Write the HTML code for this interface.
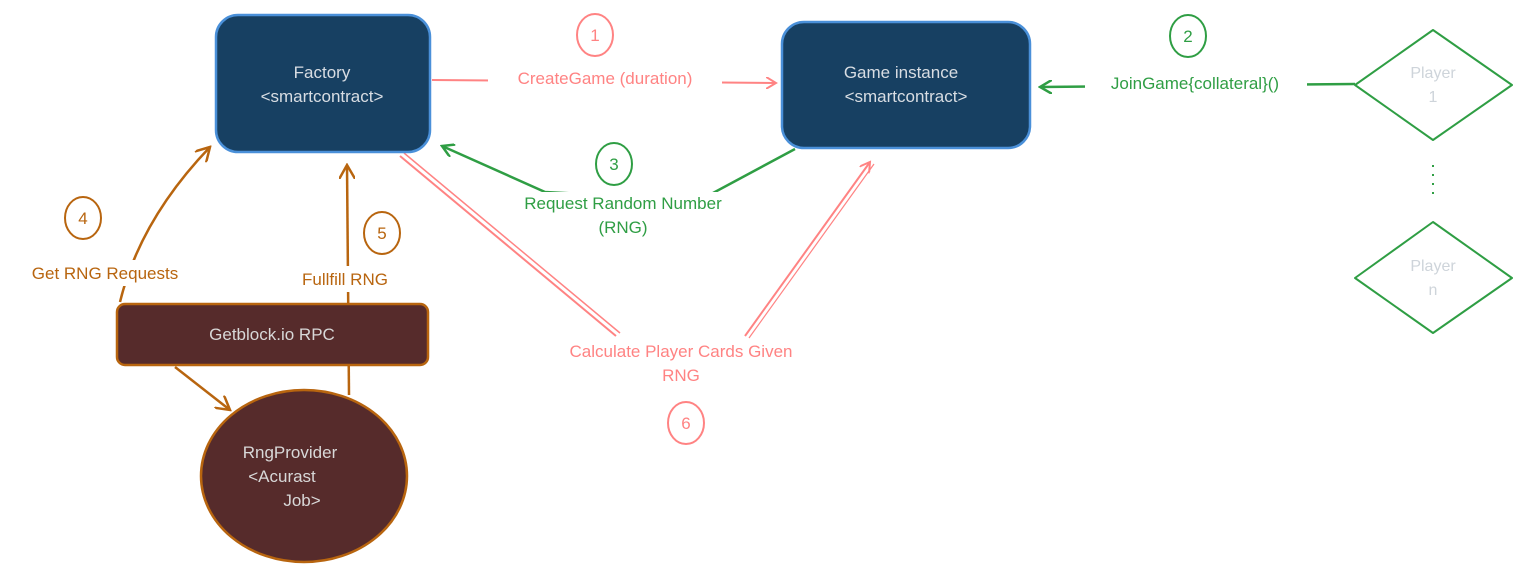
<!DOCTYPE html>
<html><head><meta charset="utf-8"><style>
html,body{margin:0;padding:0;background:#fff;width:1529px;height:571px;overflow:hidden}
text{font-family:"Liberation Sans",sans-serif}
</style></head><body>
<svg width="1529" height="571" viewBox="0 0 1529 571" xmlns="http://www.w3.org/2000/svg">
<defs>
<marker id="ap" markerWidth="12" markerHeight="12" refX="10" refY="6" orient="auto" markerUnits="userSpaceOnUse"><path d="M0,0 L10,6 L0,12" fill="none" stroke="#ff8383" stroke-width="2"/></marker>
<marker id="ag" markerWidth="14" markerHeight="14" refX="12" refY="7" orient="auto" markerUnits="userSpaceOnUse"><path d="M0,0 L12,7 L0,14" fill="none" stroke="#2f9e44" stroke-width="2.5"/></marker>
<marker id="ab" markerWidth="16" markerHeight="16" refX="14" refY="8" orient="auto" markerUnits="userSpaceOnUse"><path d="M0,0 L14,8 L0,16" fill="none" stroke="#b8650f" stroke-width="2.5"/></marker>
</defs>
<!-- connectors -->
<line x1="432" y1="80" x2="776" y2="83" stroke="#ff8383" stroke-width="2" marker-end="url(#ap)"/>
<line x1="1355" y1="84" x2="1040" y2="87" stroke="#2f9e44" stroke-width="2.5" marker-end="url(#ag)"/>
<path d="M795 149 L700 200 L545 192 L442 146" fill="none" stroke="#2f9e44" stroke-width="2.5" marker-end="url(#ag)"/>
<line x1="400" y1="156" x2="616" y2="336" stroke="#ff8383" stroke-width="2"/>
<line x1="404" y1="153" x2="620" y2="333" stroke="#ff8383" stroke-width="1.5"/>
<line x1="745" y1="336" x2="870" y2="162" stroke="#ff8383" stroke-width="2" marker-end="url(#ap)"/>
<line x1="749" y1="338" x2="874" y2="164" stroke="#ff8383" stroke-width="1.2"/>
<path d="M120 302 Q140 220 210 147" fill="none" stroke="#b8650f" stroke-width="2.5" marker-end="url(#ab)"/>
<line x1="349" y1="395" x2="347" y2="165" stroke="#b8650f" stroke-width="2.5" marker-end="url(#ab)"/>
<line x1="175" y1="367" x2="230" y2="410" stroke="#b8650f" stroke-width="2.5" marker-end="url(#ab)"/>
<!-- label backgrounds -->
<rect x="488" y="66" width="234" height="24" fill="#fff"/>
<rect x="1085" y="72" width="222" height="24" fill="#fff"/>
<rect x="504" y="192" width="240" height="22" fill="#fff"/>
<rect x="590" y="216" width="66" height="22" fill="#fff"/>
<rect x="530" y="340" width="302" height="46" fill="#fff"/>
<rect x="8" y="260" width="195" height="26" fill="#fff"/>
<rect x="288" y="266" width="115" height="26" fill="#fff"/>
<!-- nodes -->
<rect x="216" y="15" width="214" height="137" rx="22" fill="#174062" stroke="#4a90d9" stroke-width="2.5"/>
<text x="322" y="78" fill="#d8dde3" font-size="17" text-anchor="middle">Factory</text>
<text x="322" y="102" fill="#d8dde3" font-size="17" text-anchor="middle">&lt;smartcontract&gt;</text>
<rect x="782" y="22" width="248" height="126" rx="22" fill="#174062" stroke="#4a90d9" stroke-width="2.5"/>
<text x="901" y="78" fill="#d8dde3" font-size="17" text-anchor="middle">Game instance</text>
<text x="906" y="102" fill="#d8dde3" font-size="17" text-anchor="middle">&lt;smartcontract&gt;</text>
<rect x="117" y="304" width="311" height="61" rx="8" fill="#562b2b" stroke="#b8650f" stroke-width="2.5"/>
<text x="272" y="340" fill="#d8d8d8" font-size="17" text-anchor="middle">Getblock.io RPC</text>
<ellipse cx="304" cy="476" rx="103" ry="86" fill="#562b2b" stroke="#b8650f" stroke-width="2.5"/>
<text x="290" y="458" fill="#d8d8d8" font-size="17" text-anchor="middle">RngProvider</text>
<text x="282" y="482" fill="#d8d8d8" font-size="17" text-anchor="middle">&lt;Acurast</text>
<text x="302" y="506" fill="#d8d8d8" font-size="17" text-anchor="middle">Job&gt;</text>
<path d="M1433 30 L1512 85 L1433 140 L1355 85 Z" fill="#fff" stroke="#2f9e44" stroke-width="2" stroke-linejoin="round"/>
<text x="1433" y="78" fill="#ced4da" font-size="16" text-anchor="middle">Player</text>
<text x="1433" y="102" fill="#ced4da" font-size="16" text-anchor="middle">1</text>
<path d="M1433 222 L1512 278 L1433 333 L1355 278 Z" fill="#fff" stroke="#2f9e44" stroke-width="2" stroke-linejoin="round"/>
<text x="1433" y="271" fill="#ced4da" font-size="16" text-anchor="middle">Player</text>
<text x="1433" y="295" fill="#ced4da" font-size="16" text-anchor="middle">n</text>
<line x1="1433" y1="165" x2="1433" y2="196" stroke="#2f9e44" stroke-width="2" stroke-dasharray="2,7"/>
<!-- labels -->
<text x="605" y="84" fill="#ff8383" font-size="17" text-anchor="middle">CreateGame (duration)</text>
<text x="1195" y="89" fill="#2f9e44" font-size="17" text-anchor="middle">JoinGame{collateral}()</text>
<text x="623" y="209" fill="#2f9e44" font-size="17" text-anchor="middle">Request Random Number</text>
<text x="623" y="233" fill="#2f9e44" font-size="17" text-anchor="middle">(RNG)</text>
<text x="681" y="357" fill="#ff8383" font-size="17" text-anchor="middle">Calculate Player Cards Given</text>
<text x="681" y="381" fill="#ff8383" font-size="17" text-anchor="middle">RNG</text>
<text x="105" y="279" fill="#b8650f" font-size="17" text-anchor="middle">Get RNG Requests</text>
<text x="345" y="285" fill="#b8650f" font-size="17" text-anchor="middle">Fullfill RNG</text>
<!-- number circles -->
<g font-size="17" text-anchor="middle">
<ellipse cx="595" cy="35" rx="18" ry="21" fill="none" stroke="#ff8383" stroke-width="2"/><text x="595" y="41" fill="#ff8383">1</text>
<ellipse cx="1188" cy="36" rx="18" ry="21" fill="none" stroke="#2f9e44" stroke-width="2"/><text x="1188" y="42" fill="#2f9e44">2</text>
<ellipse cx="614" cy="164" rx="18" ry="21" fill="#fff" stroke="#2f9e44" stroke-width="2"/><text x="614" y="170" fill="#2f9e44">3</text>
<ellipse cx="83" cy="218" rx="18" ry="21" fill="none" stroke="#b8650f" stroke-width="2"/><text x="83" y="224" fill="#b8650f">4</text>
<ellipse cx="382" cy="233" rx="18" ry="21" fill="none" stroke="#b8650f" stroke-width="2"/><text x="382" y="239" fill="#b8650f">5</text>
<ellipse cx="686" cy="423" rx="18" ry="21" fill="none" stroke="#ff8383" stroke-width="2"/><text x="686" y="429" fill="#ff8383">6</text>
</g>
</svg>
</body></html>
